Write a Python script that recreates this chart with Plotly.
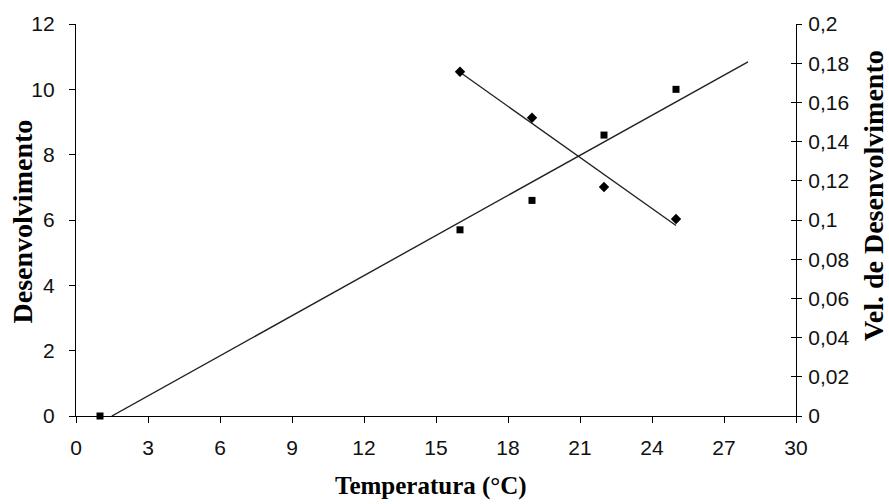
import numpy as np
import plotly.graph_objects as go

# Development (left axis) versus temperature
temp_dev = [1, 16, 19, 22, 25]
desenvolvimento = [0.0, 5.7, 6.6, 8.6, 10.0]

# Development rate (right axis) versus temperature
temp_vel = [16, 19, 22, 25]
vel_desenvolvimento = [0.1756, 0.1522, 0.1168, 0.1005]

x_ticks = list(range(0, 31, 3))
y_left_ticks = list(range(0, 13, 2))

# Linear trend lines
a1, b1 = np.polyfit(temp_dev, desenvolvimento, 1)
x_start = -b1 / a1
trend_dev_x = [x_start, 28]
trend_dev_y = [a1 * x + b1 for x in trend_dev_x]

a2, b2 = np.polyfit(temp_vel, vel_desenvolvimento, 1)
trend_vel_x = [min(temp_vel), max(temp_vel)]
trend_vel_y = [a2 * x + b2 for x in trend_vel_x]

tick_font = dict(family="Liberation Sans, Arial", size=21, color="#111")
vtitle_font = dict(family="Liberation Serif, Times New Roman", size=28, color="#000")
htitle_font = dict(family="Liberation Serif, Times New Roman", size=25, color="#000")

fig = go.Figure()
fig.add_trace(go.Scatter(x=trend_dev_x, y=trend_dev_y, mode="lines",
                         line=dict(color="#222", width=1.4), yaxis="y", showlegend=False))
fig.add_trace(go.Scatter(x=temp_dev, y=desenvolvimento, mode="markers",
                         marker=dict(symbol="square", size=7, color="#000"),
                         yaxis="y", showlegend=False, cliponaxis=False))
fig.add_trace(go.Scatter(x=trend_vel_x, y=trend_vel_y, mode="lines",
                         line=dict(color="#222", width=1.4), yaxis="y2", showlegend=False))
fig.add_trace(go.Scatter(x=temp_vel, y=vel_desenvolvimento, mode="markers",
                         marker=dict(symbol="diamond", size=8, color="#000"),
                         yaxis="y2", showlegend=False))
# helper axis carrying the inner half of the right-hand ticks
fig.add_trace(go.Scatter(x=[], y=[], yaxis="y3", showlegend=False, hoverinfo="skip"))

fig.update_layout(
    width=889, height=504,
    margin=dict(l=76, r=93, t=24, b=88),
    paper_bgcolor="white", plot_bgcolor="white",
    separators=",.",
    xaxis=dict(range=[0, 30], tickvals=x_ticks, showgrid=False, zeroline=False,
               showline=True, linecolor="#000", linewidth=1.3,
               ticks="outside", ticklen=6, tickcolor="#000", tickwidth=1.3,
               ticklabelstandoff=7, tickfont=tick_font),
    yaxis=dict(range=[0, 12], tickvals=y_left_ticks, showgrid=False, zeroline=False,
               showline=True, linecolor="#000", linewidth=1.3,
               ticks="outside", ticklen=6, tickcolor="#000", tickwidth=1.3,
               ticklabelstandoff=10, tickfont=tick_font),
    yaxis2=dict(range=[0, 0.2], dtick=0.02, overlaying="y", side="right", anchor="x",
                showgrid=False, zeroline=False,
                showline=True, linecolor="#000", linewidth=1.3,
                ticks="outside", ticklen=5, tickcolor="#000", tickwidth=1.3,
                ticklabelstandoff=2, tickfont=tick_font),
    yaxis3=dict(range=[0, 0.2], dtick=0.02, overlaying="y", side="right", anchor="x",
                showgrid=False, zeroline=False, showline=False,
                ticks="inside", ticklen=5, tickcolor="#000", tickwidth=1.3,
                showticklabels=False),
    annotations=[
        dict(text="<b>Desenvolvimento</b>", xref="paper", yref="paper",
             x=-0.0743, y=0.495, xanchor="center", yanchor="middle",
             textangle=-90, showarrow=False, font=vtitle_font),
        dict(text="<b>Vel. de Desenvolvimento</b>", xref="paper", yref="paper",
             x=1.1083, y=0.564, xanchor="center", yanchor="middle",
             textangle=-90, showarrow=False, font=vtitle_font),
        dict(text="<b>Temperatura (°C)</b>", xref="paper", yref="paper",
             x=0.493, y=-0.1786, xanchor="center", yanchor="middle",
             showarrow=False, font=htitle_font),
    ],
)

fig.write_html("out.html")
